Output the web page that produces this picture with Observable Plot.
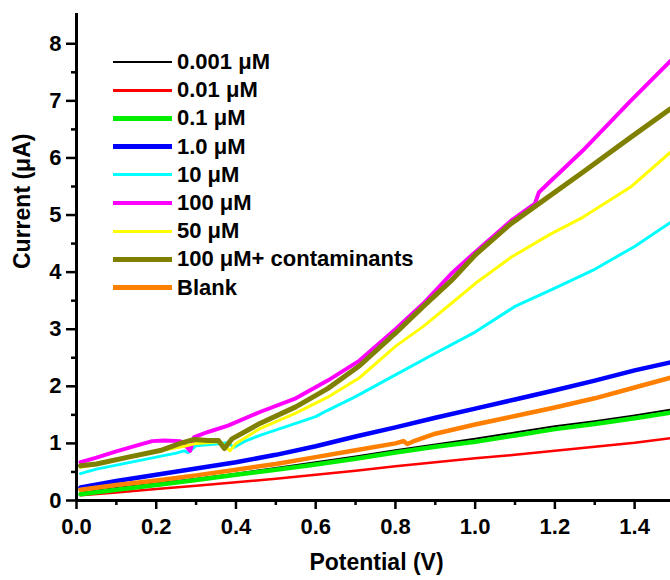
<!DOCTYPE html>
<html>
<head>
<meta charset="utf-8">
<script src="https://cdn.jsdelivr.net/npm/d3@7"></script>
<script src="https://cdn.jsdelivr.net/npm/@observablehq/plot@0.6"></script>
<style>
  html, body { margin: 0; padding: 0; background: #fff; }
  #wrap { position: relative; width: 670px; height: 580px; font-family: "Liberation Sans", Arial, sans-serif; }
  #legend { position: absolute; left: 113px; top: 48px; font-weight: bold; font-size: 22px; color: #000; }
  .row { display: flex; align-items: center; height: 28.2px; white-space: nowrap; }
  .sw { width: 59px; margin-right: 5px; }
</style>
</head>
<body>
<div id="wrap"><div id="legend"></div></div>
<script>
// ---- data ----
const seriesNames = ["0.001 μM", "0.01 μM", "0.1 μM", "1.0 μM", "10 μM", "100 μM", "50 μM", "100 μM+ contaminants", "Blank"];
const seriesColors = ["#000000", "#ff0000", "#00ee00", "#0000ff", "#00ffff", "#ff00ff", "#ffff00", "#808000", "#ff8000"];
const seriesWidths = [2, 2.5, 4.5, 4.5, 3, 4, 3, 5, 4.5];

const xLinear = [0.01, 0.1, 0.2, 0.3, 0.4, 0.5, 0.6, 0.7, 0.8, 0.9, 1.0, 1.1, 1.2, 1.3, 1.4, 1.49];
const y0001 = [0.13, 0.22, 0.30, 0.38, 0.47, 0.57, 0.67, 0.77, 0.88, 0.98, 1.08, 1.19, 1.30, 1.39, 1.49, 1.59];
const y001  = [0.09, 0.14, 0.20, 0.26, 0.32, 0.38, 0.45, 0.52, 0.60, 0.67, 0.74, 0.80, 0.87, 0.94, 1.01, 1.09];
const y01   = [0.11, 0.19, 0.27, 0.36, 0.45, 0.54, 0.63, 0.73, 0.84, 0.94, 1.03, 1.14, 1.25, 1.34, 1.44, 1.54];
const y1    = [0.23, 0.34, 0.45, 0.56, 0.67, 0.80, 0.95, 1.12, 1.28, 1.45, 1.61, 1.77, 1.93, 2.10, 2.28, 2.42];

const x10 = [0.01, 0.05, 0.1, 0.15, 0.2, 0.25, 0.27, 0.28, 0.3, 0.35, 0.38, 0.395, 0.42, 0.46, 0.55, 0.6, 0.63, 0.7, 0.8, 0.9, 1.0, 1.1, 1.2, 1.3, 1.4, 1.49];
const y10 = [0.47, 0.55, 0.62, 0.69, 0.76, 0.83, 0.87, 0.84, 0.96, 0.99, 1.01, 0.93, 1.03, 1.14, 1.35, 1.47, 1.58, 1.82, 2.2, 2.58, 2.95, 3.4, 3.72, 4.05, 4.45, 4.87];

const x100 = [0.01, 0.05, 0.1, 0.15, 0.19, 0.22, 0.26, 0.275, 0.285, 0.295, 0.33, 0.38, 0.46, 0.55, 0.63, 0.71, 0.8, 0.87, 0.94, 1.0, 1.09, 1.15, 1.16, 1.27, 1.39, 1.49];
const y100 = [0.67, 0.75, 0.86, 0.96, 1.04, 1.05, 1.04, 0.95, 0.87, 1.11, 1.2, 1.31, 1.55, 1.79, 2.1, 2.45, 3.0, 3.45, 3.97, 4.35, 4.9, 5.2, 5.4, 6.13, 7.0, 7.7];

const x50 = [0.01, 0.05, 0.13, 0.2, 0.27, 0.3, 0.36, 0.385, 0.4, 0.46, 0.55, 0.63, 0.71, 0.8, 0.87, 0.94, 1.0, 1.09, 1.19, 1.27, 1.39, 1.49];
const y50 = [0.58, 0.63, 0.75, 0.86, 0.95, 1.0, 1.03, 0.87, 1.0, 1.26, 1.53, 1.81, 2.15, 2.7, 3.05, 3.45, 3.8, 4.26, 4.67, 4.96, 5.49, 6.1];

const xCont = [0.01, 0.05, 0.13, 0.21, 0.26, 0.295, 0.33, 0.356, 0.371, 0.39, 0.46, 0.55, 0.63, 0.71, 0.8, 0.87, 0.94, 1.0, 1.09, 1.16, 1.27, 1.39, 1.49];
const yCont = [0.61, 0.64, 0.76, 0.875, 1.0, 1.07, 1.05, 1.05, 0.91, 1.08, 1.35, 1.64, 1.96, 2.36, 2.93, 3.4, 3.85, 4.3, 4.85, 5.2, 5.75, 6.36, 6.86];

const xBlank = [0.01, 0.1, 0.2, 0.3, 0.4, 0.5, 0.6, 0.7, 0.8, 0.82, 0.83, 0.85, 0.9, 1.0, 1.1, 1.2, 1.3, 1.4, 1.49];
const yBlank = [0.19, 0.27, 0.35, 0.44, 0.54, 0.64, 0.76, 0.88, 1.0, 1.04, 0.99, 1.05, 1.17, 1.33, 1.48, 1.63, 1.79, 1.98, 2.15];

const xTicks = [0, 0.2, 0.4, 0.6, 0.8, 1.0, 1.2, 1.4];
const xMinor = [0.1, 0.3, 0.5, 0.7, 0.9, 1.1, 1.3];
const yTicks = [0, 1, 2, 3, 4, 5, 6, 7, 8];
const yMinor = [0.5, 1.5, 2.5, 3.5, 4.5, 5.5, 6.5, 7.5];

const seriesX = [xLinear, xLinear, xLinear, xLinear, x10, x100, x50, xCont, xBlank];
const seriesY = [y0001, y001, y01, y1, y10, y100, y50, yCont, yBlank];

const tables = seriesNames.map((name, i) => seriesX[i].map((x, j) => ({series: name, x, y: seriesY[i][j]})));

const lineMarks = tables.map((rows, i) =>
  Plot.line(rows, {x: "x", y: "y", stroke: seriesColors[i], strokeWidth: seriesWidths[i], strokeLinejoin: "round", clip: true})
);

const chart = Plot.plot({
  width: 670,
  height: 580,
  marginLeft: 76,
  marginRight: 0,
  marginTop: 13,
  marginBottom: 80,
  style: {fontFamily: "'Liberation Sans', Arial, sans-serif", fontSize: "22px", fontWeight: "bold", color: "#000", background: "#fff", overflow: "visible"},
  x: {domain: [0, 1.49]},
  y: {domain: [0, 8.53]},
  marks: [
    ...lineMarks,
    Plot.axisX({ticks: xTicks, tickFormat: d3.format(".1f"), tickSize: 9, tickPadding: 9, strokeWidth: 2.5, label: null}),
    Plot.axisX({ticks: xMinor, tickFormat: () => "", tickSize: 5, strokeWidth: 2.5, label: null}),
    Plot.axisY({ticks: yTicks, tickFormat: d => String(d), tickSize: 10, tickPadding: 5, strokeWidth: 2.5, label: null}),
    Plot.axisY({ticks: yMinor, tickFormat: () => "", tickSize: 5, strokeWidth: 2.5, label: null}),
    Plot.ruleY([0], {strokeWidth: 3}),
    Plot.ruleX([0], {strokeWidth: 3}),
    Plot.text(["Potential (V)"], {text: d => d, frameAnchor: "bottom", dy: 69, dx: 3, fontSize: 23, fontWeight: "bold"}),
    Plot.text(["Current (μA)"], {text: d => d, frameAnchor: "left", rotate: -90, dx: -54, dy: 12, fontSize: 23, fontWeight: "bold"})
  ]
});

const wrap = document.getElementById("wrap");
wrap.insertBefore(chart, wrap.firstChild);

const legend = document.getElementById("legend");
seriesNames.forEach((name, i) => {
  const row = document.createElement("div");
  row.className = "row";
  const sw = document.createElement("span");
  sw.className = "sw";
  sw.style.height = seriesWidths[i] + "px";
  sw.style.background = seriesColors[i];
  const t = document.createElement("span");
  t.textContent = name;
  row.appendChild(sw);
  row.appendChild(t);
  legend.appendChild(row);
});
</script>
</body>
</html>
